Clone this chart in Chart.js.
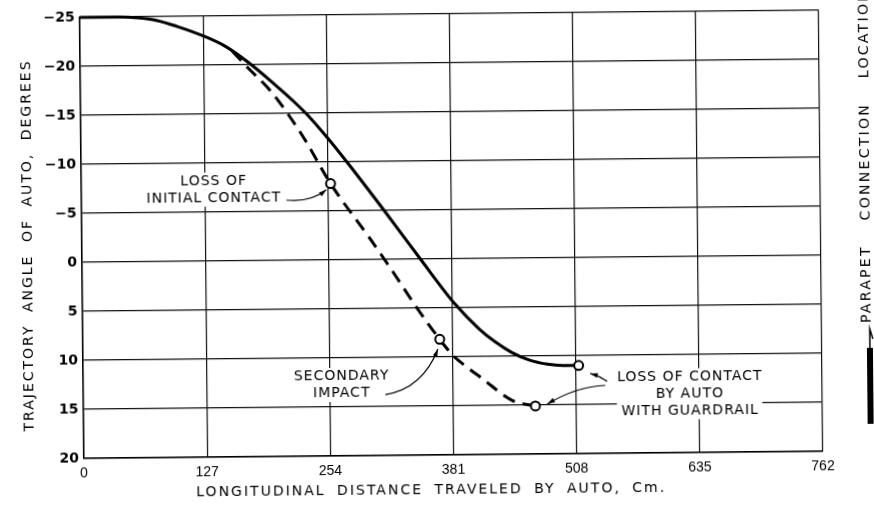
<!DOCTYPE html>
<html>
<head>
<meta charset="utf-8">
<script src="https://cdn.jsdelivr.net/npm/chart.js@4"></script>
<style>
    html, body { margin: 0; padding: 0; background: #fff; overflow: hidden; }
    /* the scanned figure is slightly tilted */
    #traj-chart { display: block; transform: rotate(-0.55deg); }
</style>
</head>
<body>
<canvas id="traj-chart" width="874" height="508"></canvas>
<script>
const xTickValues = [0, 127, 254, 381, 508, 635, 762];
const yTickValues = [-25, -20, -15, -10, -5, 0, 5, 10, 15, 20];

// solid curve
const soloX = [0, 40, 60, 80, 100, 127, 150, 174, 200, 220, 236, 254, 274, 312, 349, 384, 409, 425, 442, 460, 479, 495, 511];
const soloY = [-25, -25, -24.9, -24.6, -24.0, -23.0, -21.9, -20.2, -18.0, -16.2, -14.6, -12.5, -10.0, -5.0, 0, 4.6, 7.2, 8.5, 9.6, 10.4, 10.85, 11.0, 11.0];

// dashed curve
const railX = [157, 172, 197, 214, 231, 257, 296, 318, 345, 368, 381, 395, 411, 442, 466];
const railY = [-21.4, -19.8, -17.2, -14.9, -12.3, -7.8, -2.3, 0.9, 5, 8.2, 9.8, 11.0, 12.2, 14.5, 15.1];

// open circles
const eventX = [257, 368, 466, 511];
const eventY = [-7.8, 8.2, 15.1, 11.0];

const noteText = [
    ['LOSS OF', 'INITIAL CONTACT'],
    ['SECONDARY', 'IMPACT'],
    ['LOSS OF CONTACT', 'BY AUTO', 'WITH GUARDRAIL']
];
const noteX = [136, 266, 625];
const noteY = [-7.3, 12.75, 14.0];

const arrowFromX = [211.4, 311.4, 540.3, 538.2];
const arrowFromY = [-6.15, 13.78, 12.65, 13.06];
const arrowViaX = [236, 350, 532, 508.3];
const arrowViaY = [-5.9, 13.2, 12.1, 13.16];
const arrowToX = [252.6, 366, 522.8, 478.4];
const arrowToY = [-7.17, 9.18, 11.83, 14.9];

const yTitle = 'TRAJECTORY ANGLE OF AUTO, DEGREES';
const xTitle = 'LONGITUDINAL DISTANCE TRAVELED BY AUTO, Cm.';
const sideTitle = 'PARAPET CONNECTION LOCATION';

const FONT = '"DejaVu Sans", "Liberation Sans", sans-serif';
const LINE_H = 17;

Chart.defaults.font.family = FONT;
Chart.defaults.color = '#000';

const toPoints = (xs, ys) => xs.map((v, i) => ({x: v, y: ys[i]}));

const notesPlugin = {
    id: 'notes',
    beforeDatasetsDraw(chart) {
        const {ctx, scales: {x, y}} = chart;
        ctx.save();
        ctx.font = '14px ' + FONT;
        ctx.letterSpacing = '1px';
        ctx.textAlign = 'center';
        ctx.textBaseline = 'middle';
        noteText.forEach((lines, i) => {
            const cx = x.getPixelForValue(noteX[i]);
            const cy = y.getPixelForValue(noteY[i]);
            const top = cy - (lines.length - 1) * LINE_H / 2;
            lines.forEach((line, j) => {
                const w = ctx.measureText(line).width;
                const ly = top + j * LINE_H;
                ctx.fillStyle = '#fff';
                ctx.fillRect(cx - w / 2 - 4, ly - LINE_H / 2, w + 8, LINE_H);
                ctx.fillStyle = '#000';
                ctx.fillText(line, cx + 0.5, ly);
            });
        });
        ctx.restore();
    },
    afterDatasetsDraw(chart) {
        const {ctx, scales: {x, y}} = chart;
        ctx.save();
        ctx.strokeStyle = '#000';
        ctx.fillStyle = '#000';
        ctx.lineWidth = 1.2;
        arrowFromX.forEach((fx, i) => {
            const p0 = {x: x.getPixelForValue(fx), y: y.getPixelForValue(arrowFromY[i])};
            const c = {x: x.getPixelForValue(arrowViaX[i]), y: y.getPixelForValue(arrowViaY[i])};
            const p1 = {x: x.getPixelForValue(arrowToX[i]), y: y.getPixelForValue(arrowToY[i])};
            ctx.beginPath();
            ctx.moveTo(p0.x, p0.y);
            ctx.quadraticCurveTo(c.x, c.y, p1.x, p1.y);
            ctx.stroke();
            const ang = Math.atan2(p1.y - c.y, p1.x - c.x);
            ctx.beginPath();
            ctx.moveTo(p1.x, p1.y);
            ctx.lineTo(p1.x - 8 * Math.cos(ang - 0.3), p1.y - 8 * Math.sin(ang - 0.3));
            ctx.lineTo(p1.x - 8 * Math.cos(ang + 0.3), p1.y - 8 * Math.sin(ang + 0.3));
            ctx.closePath();
            ctx.fill();
        });
        ctx.restore();
    },
    afterDraw(chart) {
        const {ctx, chartArea: area} = chart;
        ctx.save();
        ctx.fillStyle = '#000';
        ctx.textBaseline = 'middle';
        ctx.font = '14px ' + FONT;

        // y title
        ctx.save();
        ctx.letterSpacing = '2px';
        ctx.wordSpacing = '6px';
        ctx.translate(area.left - 54, (area.top + area.bottom) / 2 + 7);
        ctx.rotate(-Math.PI / 2);
        ctx.textAlign = 'center';
        ctx.fillText(yTitle, 0, 0);
        ctx.restore();

        // x title
        ctx.save();
        ctx.letterSpacing = '2px';
        ctx.wordSpacing = '5px';
        ctx.textAlign = 'center';
        ctx.fillText(xTitle, area.left + 347, area.bottom + 35);
        ctx.restore();

        // side note on the right
        ctx.save();
        ctx.letterSpacing = '2.3px';
        ctx.wordSpacing = '18px';
        ctx.translate(area.right + 45, 327);
        ctx.rotate(-Math.PI / 2);
        ctx.textAlign = 'left';
        ctx.fillText(sideTitle, 0, 0);
        ctx.restore();

        const sx = area.right + 48;
        ctx.strokeStyle = '#000';
        ctx.lineWidth = 1.5;
        ctx.beginPath();
        ctx.moveTo(sx, 354);
        ctx.lineTo(sx, 333);
        ctx.lineTo(sx + 3, 343);
        ctx.stroke();
        ctx.fillRect(sx - 3, 352, 6, 76);
        ctx.restore();
    }
};

new Chart(document.getElementById('traj-chart'), {
    type: 'line',
    data: {
        datasets: [
            {
                data: toPoints(eventX, eventY),
                showLine: false,
                pointRadius: 4.5,
                pointBorderWidth: 2,
                pointBackgroundColor: '#fff',
                pointBorderColor: '#000',
                order: 0
            },
            {
                data: toPoints(soloX, soloY),
                borderColor: '#000',
                borderWidth: 3,
                pointRadius: 0,
                cubicInterpolationMode: 'monotone',
                clip: 4,
                order: 1
            },
            {
                data: toPoints(railX, railY),
                borderColor: '#000',
                borderWidth: 3,
                borderDash: [13, 8],
                pointRadius: 0,
                cubicInterpolationMode: 'monotone',
                order: 2
            }
        ]
    },
    options: {
        responsive: false,
        devicePixelRatio: 1,
        animation: false,
        layout: {
            padding: {left: 42, right: 53, top: 14, bottom: 23}
        },
        scales: {
            x: {
                type: 'linear',
                min: 0,
                max: 762,
                afterBuildTicks: s => { s.ticks = xTickValues.map(v => ({value: v})); },
                afterFit: s => { s.height = 30; },
                ticks: {
                    padding: 7,
                    font: {size: 14, family: '"Liberation Sans", sans-serif'},
                    color: '#000',
                    maxRotation: 0
                },
                grid: {color: '#111', lineWidth: 1.2, drawTicks: false},
                border: {color: '#000', width: 1.5}
            },
            y: {
                type: 'linear',
                reverse: true,
                min: -25,
                max: 20,
                afterBuildTicks: s => { s.ticks = yTickValues.map(v => ({value: v})); },
                afterFit: s => { s.width = 40; },
                ticks: {
                    padding: 5,
                    font: {size: 14, weight: 'bold'},
                    color: '#000',
                    callback: v => v < 0 ? '\u2212' + Math.abs(v) : String(v)
                },
                grid: {color: '#111', lineWidth: 1.2, drawTicks: false},
                border: {color: '#000', width: 1.5}
            }
        },
        plugins: {
            legend: {display: false},
            tooltip: {enabled: false},
            title: {display: false}
        }
    },
    plugins: [notesPlugin]
});
</script>
</body>
</html>
